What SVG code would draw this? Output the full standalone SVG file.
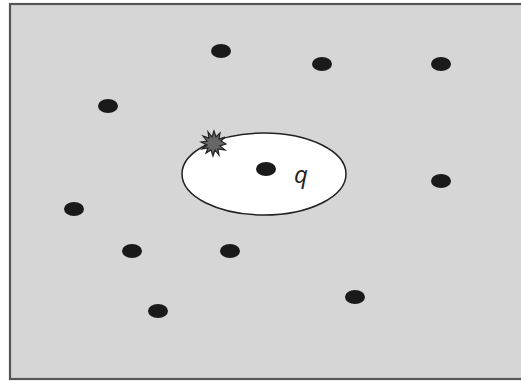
<svg xmlns="http://www.w3.org/2000/svg" width="521" height="382" viewBox="0 0 521 382">
<style>
.dot{fill:#1a1a1a}
</style>
<rect x="0" y="0" width="521" height="382" fill="#ffffff"/>
<rect x="10" y="4" width="530" height="375" fill="#d6d6d6" stroke="#555" stroke-width="2.2"/>
<g id="region">
<ellipse cx="264" cy="174" rx="82" ry="41" fill="#fff" stroke="#222" stroke-width="1.5"/>
</g>
<g id="burst">
<polygon points="226,144 220,146 225,150 218,149 219,155 215,150 213,156 211,150 206,153 208,148 202,149 207,145 201,142 207,141 203,136 209,138 208,132 212,137 214,131 216,137 220,133 219,139 225,137 221,141" fill="#666" stroke="#222" stroke-width="1.2" stroke-linejoin="miter"/>
</g>
<g id="points">
<ellipse class="dot" cx="221" cy="51" rx="10" ry="7"/>
<ellipse class="dot" cx="322" cy="64" rx="10" ry="7"/>
<ellipse class="dot" cx="441" cy="64" rx="10" ry="7"/>
<ellipse class="dot" cx="108" cy="106" rx="10" ry="7"/>
<ellipse class="dot" cx="266" cy="169" rx="10" ry="7"/>
<ellipse class="dot" cx="441" cy="181" rx="10" ry="7"/>
<ellipse class="dot" cx="74" cy="209" rx="10" ry="7"/>
<ellipse class="dot" cx="132" cy="251" rx="10" ry="7"/>
<ellipse class="dot" cx="230" cy="251" rx="10" ry="7"/>
<ellipse class="dot" cx="158" cy="311" rx="10" ry="7"/>
<ellipse class="dot" cx="355" cy="297" rx="10" ry="7"/>
</g>
<text x="294" y="183" font-family="'Open Sans', 'DejaVu Sans', sans-serif" font-style="italic" font-size="24" fill="#222">q</text>
</svg>
